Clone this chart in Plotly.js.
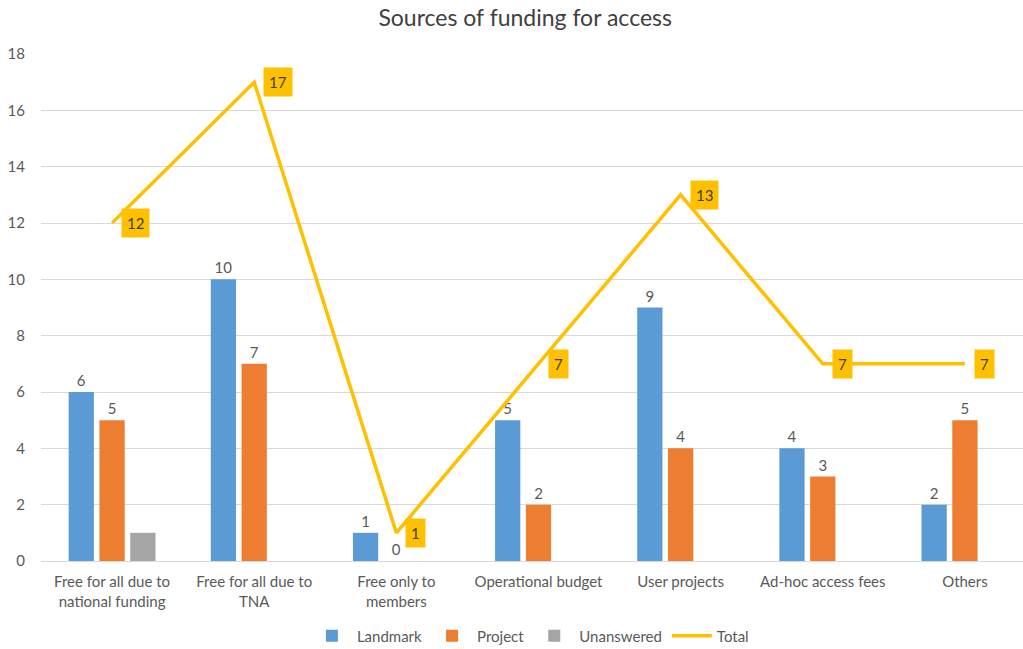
<!DOCTYPE html>
<html>
<head>
<meta charset="utf-8">
<script src="https://cdn.plot.ly/plotly-3.0.1.min.js"></script>
<style>
html,body{margin:0;padding:0;overflow:hidden;background:#fff;}
#chart{width:1040px;height:649px;}
</style>
</head>
<body>
<div id="chart"></div>
<script>
const categories = [
  "Free for all due to<br>national funding",
  "Free for all due to<br>TNA",
  "Free only to<br>members",
  "Operational budget",
  "User projects",
  "Ad-hoc access fees",
  "Others"
];
const landmark = [6, 10, 1, 5, 9, 4, 2];
const project = [5, 7, 0, 2, 4, 3, 5];
const unanswered = [1, null, null, null, null, null, null];
const total = [12, 17, 1, 7, 13, 7, 7];

const txtColor = "#595959";
const fontFam = "Lato, 'Open Sans', sans-serif";

const traces = [
  {type: "bar", name: "Landmark", x: categories, y: landmark,
   marker: {color: "#5B9BD5"}, text: landmark.map(String), textposition: "outside",
   textfont: {color: txtColor, size: 15}, cliponaxis: false, hoverinfo: "y"},
  {type: "bar", name: "Project", x: categories, y: project,
   marker: {color: "#ED7D31"}, text: project.map(String), textposition: "outside",
   textfont: {color: txtColor, size: 15}, cliponaxis: false, hoverinfo: "y"},
  {type: "bar", name: "Unanswered", x: categories, y: unanswered,
   marker: {color: "#A5A5A5"}, hoverinfo: "y"},
  {type: "scatter", mode: "lines", name: "Total", x: categories, y: total,
   line: {color: "#FFC000", width: 3.5}, hoverinfo: "y"}
];

const annotations = total.map((v, i) => ({
  x: categories[i], y: v, xref: "x", yref: "y",
  text: String(v), showarrow: false, xanchor: "left", yanchor: "middle",
  xshift: 9, bgcolor: "#FFC000", borderpad: 5,
  font: {color: "#404040", size: 15, family: fontFam}
}));

const layout = {
  width: 1040, height: 649,
  margin: {l: 41, r: 4, t: 54, b: 88},
  paper_bgcolor: "#fff", plot_bgcolor: "#fff",
  font: {family: fontFam, color: txtColor, size: 15},
  title: {text: "Sources of funding for access", x: 0.505, xref: "container", xanchor: "center",
          y: 0.972, yref: "container", yanchor: "middle",
          font: {size: 23, color: "#404040", family: fontFam}},
  barmode: "group", bargap: 0.35, bargroupgap: 0.18,
  xaxis: {showgrid: false, showline: false, zeroline: false, ticks: "outside", ticklen: 7,
          tickcolor: "rgba(0,0,0,0)", tickfont: {size: 15, color: txtColor}, automargin: false},
  yaxis: {range: [0, 18], dtick: 2, gridcolor: "#D9D9D9", gridwidth: 1, zeroline: true,
          zerolinecolor: "#D9D9D9", zerolinewidth: 1, showline: false, ticks: "outside", ticklen: 12,
          tickcolor: "rgba(0,0,0,0)", tickfont: {size: 15, color: txtColor}, automargin: false},
  legend: {orientation: "h", x: 0.51, xref: "container", xanchor: "center",
           y: 0.02, yref: "container", yanchor: "middle", bgcolor: "rgba(0,0,0,0)",
           font: {size: 15, color: txtColor}, traceorder: "normal", itemwidth: 40},
  annotations: annotations
};

Plotly.newPlot("chart", traces, layout, {displayModeBar: false, staticPlot: true});
</script>
</body>
</html>
